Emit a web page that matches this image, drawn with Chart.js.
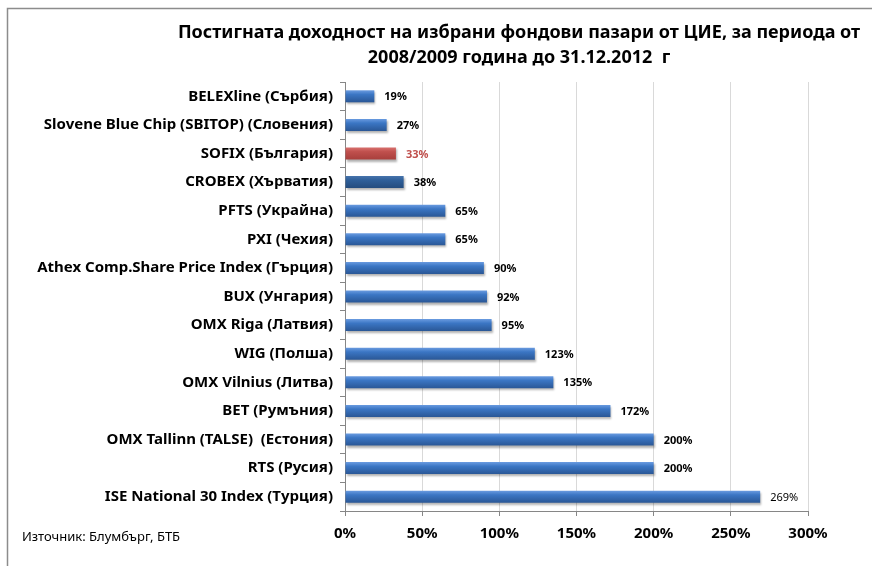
<!DOCTYPE html>
<html><head><meta charset="utf-8">
<script src="https://cdn.jsdelivr.net/npm/chart.js@4/dist/chart.umd.min.js"></script>
<style>html,body{margin:0;padding:0;background:#fff}#wrap{width:872px;height:566px;position:relative}</style>
</head><body><div id="wrap"><canvas id="c" width="872" height="566"></canvas></div>
<script>
const categories = [
  "BELEXline (Сърбия)",
  "Slovene Blue Chip (SBITOP) (Словения)",
  "SOFIX (България)",
  "CROBEX (Хърватия)",
  "PFTS (Украйна)",
  "PXI (Чехия)",
  "Athex Comp.Share Price Index (Гърция)",
  "BUX (Унгария)",
  "OMX Riga (Латвия)",
  "WIG (Полша)",
  "OMX Vilnius (Литва)",
  "BET (Румъния)",
  "OMX Tallinn (TALSE)  (Естония)",
  "RTS (Русия)",
  "ISE National 30 Index (Турция)"
];
const returns = [19, 27, 33, 38, 65, 65, 90, 92, 95, 123, 135, 172, 200, 200, 269];
const xTicks = [0, 50, 100, 150, 200, 250, 300];
const titleLines = ["Постигната доходност на избрани фондови пазари от ЦИЕ, за периода от", "2008/2009 година до 31.12.2012  г"];
const sourceText = "Източник: Блумбърг, БТБ";

const FONT = "'Noto Sans', 'Open Sans', sans-serif";
const palette = {
  blue: ['#6a9be0', '#3b76c4', '#2a5796'],
  red: ['#d8706d', '#c0504d', '#a83f3c'],
  dark: ['#4673ab', '#2f5f99', '#244c7e']
};
function paletteFor(i){
  if (categories[i].startsWith('SOFIX')) return palette.red;
  if (categories[i].startsWith('CROBEX')) return palette.dark;
  return palette.blue;
}
function barFill(ctx){
  const p = paletteFor(ctx.dataIndex);
  const chart = ctx.chart, ys = chart.scales && chart.scales.y;
  if (!ys || ctx.type !== 'data' || !ys.height) return p[1];
  const yc = ys.getPixelForValue(ctx.dataIndex);
  const g = chart.ctx.createLinearGradient(0, yc - 6, 0, yc + 6);
  g.addColorStop(0, p[0]); g.addColorStop(0.35, p[1]); g.addColorStop(1, p[2]);
  return g;
}

const framePlugin = {
  id: 'frame',
  beforeDraw(chart){
    const c = chart.ctx;
    c.save();
    c.strokeStyle = '#8c8c8c'; c.lineWidth = 1.5;
    c.beginPath(); c.moveTo(7.5, 566); c.lineTo(7.5, 8.5); c.lineTo(872, 8.5); c.stroke();
    c.fillStyle = '#000'; c.textAlign = 'center'; c.textBaseline = 'middle';
    c.font = "bold 18px " + FONT;
    c.fillText(titleLines[0], 519, 33);
    c.fillText(titleLines[1], 519, 58);
    c.textAlign = 'left'; c.font = "13px " + FONT;
    c.fillText(sourceText, 22, 537);
    c.restore();
  },
  beforeDatasetsDraw(chart){
    const c = chart.ctx; c.save();
    c.shadowColor = 'rgba(0,0,0,0.3)'; c.shadowOffsetX = 1; c.shadowOffsetY = 2; c.shadowBlur = 2;
  },
  afterDatasetsDraw(chart){
    const c = chart.ctx; c.restore();
    c.save();
    c.textBaseline = 'middle'; c.textAlign = 'left';
    const meta = chart.getDatasetMeta(0);
    meta.data.forEach((bar, i) => {
      const last = i === returns.length - 1;
      c.font = (last ? "" : "bold ") + "11px " + FONT;
      c.fillStyle = categories[i].startsWith('SOFIX') ? '#c0504d' : '#000';
      c.fillText(returns[i] + '%', bar.x + 10, bar.y + 1);
    });
    c.restore();
  }
};

new Chart(document.getElementById('c'), {
  type: 'bar',
  data: { labels: categories, datasets: [{ data: returns, backgroundColor: barFill, borderWidth: 0, barPercentage: 0.42, categoryPercentage: 1 }] },
  options: {
    indexAxis: 'y', responsive: false, animation: false,
    layout: { padding: { top: 82, right: 64, bottom: 15, left: 0 } },
    plugins: { legend: { display: false }, tooltip: { enabled: false } },
    scales: {
      x: {
        min: 0, max: 300,
        afterBuildTicks(s){ s.ticks = xTicks.map(v => ({ value: v })); },
        afterFit(s){ s.height = 40; },
        grid: { color: '#d9d9d9', tickColor: '#868686', tickLength: 5 },
        border: { color: '#868686' },
        ticks: { callback: v => v + '%', color: '#000', padding: 9, font: { family: FONT, size: 15, weight: 'bold' }, maxRotation: 0 }
      },
      y: {
        afterFit(s){ s.width = 345; },
        grid: { drawOnChartArea: false, color: '#868686', tickLength: 5 },
        border: { color: '#868686' },
        ticks: { color: '#000', padding: 7, font: { family: FONT, size: 15, weight: 'bold' }, autoSkip: false }
      }
    }
  },
  plugins: [framePlugin]
});
</script></body></html>
